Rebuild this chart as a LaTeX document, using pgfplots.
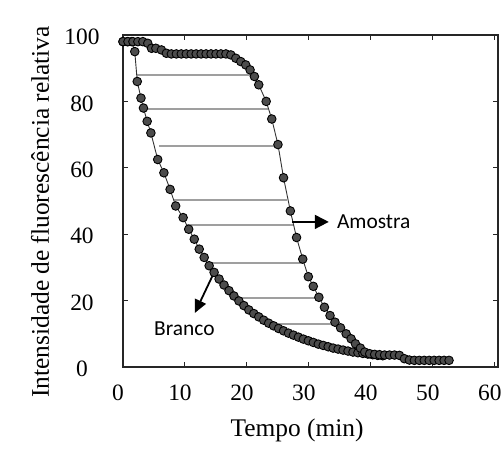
\documentclass[border=0pt]{standalone}
\usepackage{fontspec}
\setmainfont{Liberation Serif}
\newfontfamily\calibri{Carlito}
\usepackage{pgfplots}
\pgfplotsset{compat=1.18}
\usetikzlibrary{arrows.meta}

\begin{document}
\begin{tikzpicture}
\useasboundingbox (-123bp,-85bp) rectangle (381bp,367bp);
\begin{axis}[
    scale only axis,
    width=375bp, height=332bp,
    xmin=0, xmax=60.5, ymin=0, ymax=100,
    xtick={0,10,...,60}, ytick={0,20,...,100},
    clip=false,
    axis line style={black!85, line width=1.6bp},
    major tick style={black!85, line width=1bp},
    major tick length=5bp,
    /pgf/number format/assume math mode=true,
    tick label style={font=\fontsize{23.5}{23.5}\selectfont},
    yticklabel style={anchor=center, xshift=-41bp, yshift=-2bp},
    xticklabel style={anchor=center, yshift=-26bp, xshift=-5bp},
    xlabel={Tempo (min)},
    ylabel={Intensidade de fluorescência relativa},
    every axis x label/.style={at={(axis description cs:0.464,0)}, anchor=center,
        yshift=-63bp, font=\fontsize{25.5}{25.5}\selectfont},
    every axis y label/.style={at={(axis description cs:0,0.467)}, anchor=center,
        rotate=90, yshift=83bp, font=\fontsize{25.5}{25.5}\selectfont},
]
% linhas horizontais entre as curvas
\addplot[gray!75, line width=2bp, forget plot] coordinates {(2.2,88) (21.1,88)};
\addplot[gray!75, line width=2bp, forget plot] coordinates {(3.3,77.7) (23.4,77.7)};
\addplot[gray!75, line width=2bp, forget plot] coordinates {(5.8,66.7) (24.9,66.7)};
\addplot[gray!75, line width=2bp, forget plot] coordinates {(8.2,50.3) (26.5,50.3)};
\addplot[gray!75, line width=2bp, forget plot] coordinates {(10.1,42.9) (27.6,42.9)};
\addplot[gray!75, line width=2bp, forget plot] coordinates {(13.6,31.3) (29.0,31.3)};
\addplot[gray!75, line width=2bp, forget plot] coordinates {(18.1,20.9) (31.6,20.9)};
\addplot[gray!75, line width=2bp, forget plot] coordinates {(23.8,13) (33.9,13)};

% Branco
\addplot[black!80, line width=0.9bp, mark=*, mark size=4.3bp,
    mark options={fill=black!70, draw=black, line width=0.9bp}] coordinates {
(0,98) (0.7,98) (1.4,98) (1.9,95) (2.3,86) (2.9,81) (3.3,78) (3.9,74) (4.5,70.5)
(5.6,62.5) (6.6,58.5) (7.6,53.5) (8.5,48.5) (9.7,45) (10.6,41.5) (11.5,38.5)
(12.3,35.5) (13.1,33) (13.9,30.5) (14.7,28.5) (15.5,26.5) (16.3,24.7) (17.1,23)
(17.9,21.4) (18.7,19.9) (19.5,18.5) (20.3,17.2) (21.1,16.1) (21.9,15.1) (22.7,14.1)
(23.5,13.2) (24.3,12.4) (25.1,11.6) (25.9,10.9) (26.7,10.2) (27.5,9.6) (28.3,9)
(29.1,8.4) (29.9,7.9) (30.7,7.4) (31.5,6.9) (32.3,6.5) (33.1,6.1) (33.9,5.7)
(34.7,5.4) (35.5,5.1) (36.3,4.8) (37.1,4.5) (37.9,4.3) (38.7,4.1) (39.5,3.9)
(40.3,3.7) (41.1,3.5) (41.9,3.4)
};

% Amostra
\addplot[black!80, line width=0.9bp, mark=*, mark size=4.3bp,
    mark options={fill=black!70, draw=black, line width=0.9bp}] coordinates {
(0,98) (0.8,98) (1.6,98) (2.4,98) (3.2,98) (4,97.5) (4.6,96) (5.3,96) (6.2,95.5)
(7,94.5) (7.8,94.3) (8.6,94.3) (9.4,94.3) (10.2,94.3) (11,94.3) (11.8,94.3)
(12.6,94.3) (13.4,94.3) (14.2,94.3) (15,94.3) (15.8,94.3) (16.6,94.3) (17.4,94)
(18.2,93) (19,92) (19.8,91) (20.5,89.5) (21.2,87.5) (21.9,85) (23.1,80) (24,74.7)
(25,67) (25.9,57) (27,47) (28,39) (29,32.5) (29.9,27.2) (30.7,24.3) (31.6,21)
(32.5,18) (33.4,15.5) (34.2,13.5) (35.1,11.8) (36,10) (36.8,8.5) (37.5,7)
(38.3,5.7) (39,4.5) (39.8,4) (40.6,3.8) (41.4,3.7) (42.2,3.6) (43,3.6) (43.8,3.6)
(44.6,3.5) (45.4,2.5) (46.2,2.1) (47,2) (47.8,2) (48.6,2) (49.4,2) (50.2,2)
(51,2) (51.8,2) (52.6,2)
};

% moldura
\draw[black!85, line width=1.6bp] (rel axis cs:0,0) rectangle (rel axis cs:1,1);

% setas e rótulos
\draw[black, line width=1.8bp, -{Triangle[length=14bp, width=14bp]}]
    (axis cs:27.3,43.7) -- (axis cs:33.2,43.7);
\node[anchor=west, inner sep=0pt, font=\calibri\fontsize{21.5}{21.5}\selectfont]
    at (axis cs:34.5,43.7) {Amostra};
\draw[black, line width=1.8bp, -{Triangle[length=13bp, width=12bp]}]
    (axis cs:14.5,27.7) -- (axis cs:11.6,16.3);
\node[anchor=center, inner sep=0pt, font=\calibri\fontsize{21.5}{21.5}\selectfont]
    at (axis cs:9.9,11.6) {Branco};
\end{axis}
\end{tikzpicture}
\end{document}
